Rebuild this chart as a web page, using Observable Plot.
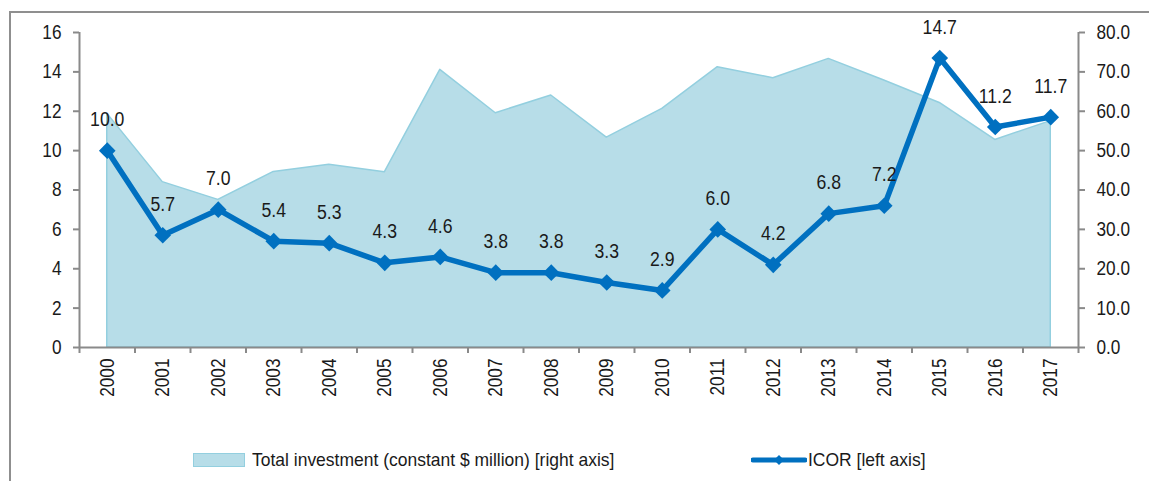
<!DOCTYPE html>
<html>
<head>
<meta charset="utf-8">
<script src="https://cdn.jsdelivr.net/npm/d3@7"></script>
<script src="https://cdn.jsdelivr.net/npm/@observablehq/plot@0.6"></script>
<style>
  html, body { margin: 0; padding: 0; background: #fff; }
  body { width: 1149px; height: 481px; position: relative; overflow: hidden;
         font-family: "Liberation Sans", Arial, sans-serif; }
  #frame { position: absolute; left: 9px; top: 11px; width: 1300px; height: 700px;
           border: 2px solid #8f8f8f; box-sizing: border-box; }
  #chart { position: absolute; left: 0; top: 0; }
  .legend { position: absolute; top: 450px; font-size: 19px; color: #1a1a1a; line-height: 20px; white-space: nowrap; }
  .sw { position: absolute; }
  .lt { position: absolute; top: 0; transform: scaleX(0.92); transform-origin: 0 50%; }
</style>
</head>
<body>
<div id="frame"></div>
<div id="chart"></div>
<div class="legend" style="left:193px;">
  <span class="sw" style="left:0;top:3px;width:52px;height:14px;background:#b7dde8;border:1.5px solid #93cfdf;box-sizing:border-box;"></span>
  <span class="lt" style="left:59px;">Total investment (constant $ million) [right axis]</span>
</div>
<div class="legend" style="left:751px;">
  <svg class="sw" style="left:0;top:0;" width="56" height="20">
    <line x1="2" y1="10" x2="54" y2="10" stroke="#0070c0" stroke-width="5" stroke-linecap="round"/>
    <path d="M28,5 L33,10 L28,15 L23,10 Z" fill="#0070c0"/>
  </svg>
  <span class="lt" style="left:57px;">ICOR [left axis]</span>
</div>
<script>
const years = [2000,2001,2002,2003,2004,2005,2006,2007,2008,2009,2010,2011,2012,2013,2014,2015,2016,2017];
const icor = [10.0,5.7,7.0,5.4,5.3,4.3,4.6,3.8,3.8,3.3,2.9,6.0,4.2,6.8,7.2,14.7,11.2,11.7];
const investment = [59.4,42.0,37.5,44.6,46.4,44.5,70.5,59.5,64.0,53.3,60.6,71.2,68.4,73.3,67.8,62.1,52.7,57.5];
const leftTicks = [0,2,4,6,8,10,12,14,16];
const rightTicks = [0,10,20,30,40,50,60,70,80];

const ratio = 16 / 80;
const data = years.map((y, i) => ({year: y, icor: icor[i], inv: investment[i], invScaled: investment[i] * ratio}));
const bounds = d3.range(years.length + 1).map(i => years[0] - 0.5 + i);

const font = '"Liberation Sans", Arial, sans-serif';
const axisColor = "#8a8a8a";
const textColor = "#1a1a1a";

const chart = Plot.plot({
  width: 1149,
  height: 410,
  marginLeft: 79,
  marginRight: 71,
  marginTop: 32,
  marginBottom: 63,
  style: {fontFamily: font, fontSize: "20px", color: textColor, background: "transparent"},
  x: {type: "linear", domain: [years[0] - 0.5, years[years.length - 1] + 0.5], axis: null},
  y: {domain: [0, 16], axis: null},
  marks: [
    Plot.areaY(data, {x: "year", y: "invScaled", fill: "#b7dde8", stroke: "#93cfdf", strokeWidth: 1.5}),
    Plot.ruleY([0], {stroke: axisColor, strokeWidth: 2}),
    Plot.ruleX([bounds[0], bounds[bounds.length - 1]], {y1: 0, y2: 16, stroke: axisColor, strokeWidth: 2}),
    Plot.axisX({ticks: bounds, tickFormat: () => "", tickSize: 6, stroke: axisColor, strokeWidth: 2, label: null}),
    Plot.axisX({ticks: years, tickFormat: d => String(d), tickSize: 0, tickPadding: 11, tickRotate: -90,
                fill: textColor, label: null}),
    Plot.axisY({anchor: "left", ticks: leftTicks, tickSize: 6, tickPadding: 12, stroke: axisColor, strokeWidth: 2,
                fill: textColor, label: null}),
    Plot.axisY({anchor: "right", ticks: rightTicks.map(v => v * ratio), tickFormat: d => (d / ratio).toFixed(1),
                tickSize: 6, tickPadding: 12, stroke: axisColor, strokeWidth: 2, fill: textColor, label: null}),
    Plot.line(data, {x: "year", y: "icor", stroke: "#0070c0", strokeWidth: 5.5, strokeLinejoin: "round"}),
    Plot.dot(data, {x: "year", y: "icor", symbol: "diamond2", r: 7.5, fill: "#0070c0", stroke: "none"}),
    Plot.text(data, {x: "year", y: "icor", text: d => d.icor.toFixed(1), dy: -31, fontSize: 20.5, fill: textColor})
  ]
});
document.getElementById("chart").appendChild(chart);

// Condense SVG text horizontally (Arial Narrow look) while keeping Plot's positions and anchors.
const squeeze = 0.86;
chart.querySelectorAll("text").forEach(t => {
  t.style.fontFamily = font;
  const len = t.getComputedTextLength();
  if (len > 0) {
    t.setAttribute("textLength", (len * squeeze).toFixed(2));
    t.setAttribute("lengthAdjust", "spacingAndGlyphs");
  }
});
</script>
</body>
</html>
